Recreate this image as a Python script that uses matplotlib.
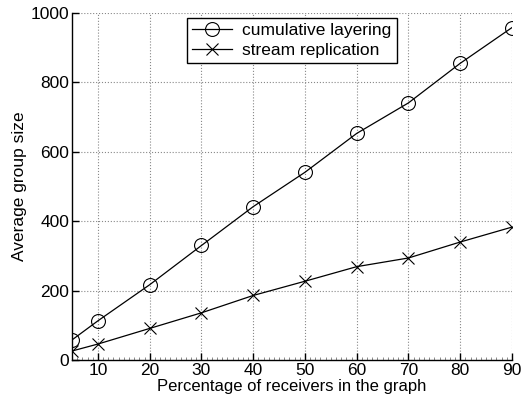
import matplotlib.pyplot as plt
import numpy as np

plt.rcParams['font.family'] = ['Liberation Sans', 'DejaVu Sans']

# percentage of receivers and average group size per scheme
pct = [5, 10, 20, 30, 40, 50, 60, 70, 80, 90]
cumulative = [58, 113, 217, 330, 442, 541, 653, 741, 855, 958]
stream = [26, 46, 91, 136, 186, 227, 269, 294, 340, 383]
xticks = [10, 20, 30, 40, 50, 60, 70, 80, 90]
yticks = [0, 200, 400, 600, 800, 1000]

fig = plt.figure(figsize=(5.3, 4.0), dpi=100)
ax = fig.add_axes([0.136, 0.1, 0.83, 0.8675])

ax.plot(pct, cumulative, color='black', lw=0.9, marker='o', markersize=10,
        markerfacecolor='none', markeredgewidth=0.8, label='cumulative layering')
ax.plot(pct, stream, color='black', lw=0.9, marker='x', markersize=8,
        markeredgewidth=0.8, label='stream replication')

ax.set_xlim(5, 90)
ax.set_ylim(0, 1000)
ax.set_xticks(xticks)
ax.set_yticks(yticks)
ax.set_xticks(np.arange(5, 91, 1), minor=True)
ax.tick_params(which='major', direction='in', length=5, labelsize=12.5, width=1, pad=2)
ax.tick_params(axis='x', which='minor', direction='in', length=2, color='#777777')
ax.grid(True, which='major', linestyle=':', color='#888888', linewidth=0.8)

for s in ['top', 'right']:
    ax.spines[s].set_visible(False)
ax.spines['left'].set_linewidth(1.0)
ax.spines['bottom'].set_linewidth(1.0)

ax.set_xlabel('Percentage of receivers in the graph', fontsize=12, labelpad=1)
ax.set_ylabel('Average group size', fontsize=12.5, labelpad=3)

leg = ax.legend(loc='upper left', bbox_to_anchor=(0.261, 0.986), fontsize=12.5,
                fancybox=False, edgecolor='black', framealpha=1,
                borderpad=0.3, borderaxespad=0, handlelength=2.3,
                labelspacing=0.25, handletextpad=0.6)
leg.get_frame().set_linewidth(1.0)

fig.savefig('out.png', dpi=100)
